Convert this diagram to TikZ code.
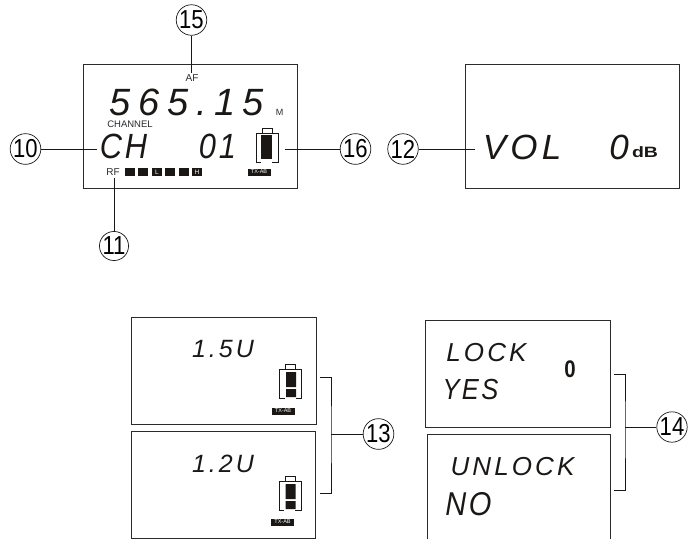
\documentclass[tikz,border=0pt]{standalone}
\usepackage{fontspec}
\setmainfont{Liberation Sans}
\newfontfamily\lcdfont[LetterSpace=20]{Liberation Sans}
\newfontfamily\lcdfontTight[LetterSpace=12]{Liberation Sans}
\newfontfamily\lcdfontNarrow[LetterSpace=8,FakeStretch=0.88]{Liberation Sans}
\newfontfamily\callfont[FakeStretch=0.85]{Liberation Sans}
\newfontfamily\widefont[FakeStretch=1.3]{Liberation Sans}
\usetikzlibrary{positioning}
\definecolor{lcdLine}{HTML}{2B2B2B}
\definecolor{lcdDark}{HTML}{1A1715}
\tikzset{
  lcdBox/.style={draw=lcdLine,line width=0.9pt,inner sep=0pt},
  callNum/.style={draw=lcdDark,circle,line width=0.7pt,inner sep=0pt,minimum size=29pt,
    font=\fontsize{26}{26}\callfont},
  leadLine/.style={draw=lcdDark,line width=0.8pt},
  lcdText/.style={inner sep=0pt,text=lcdDark,font=\fontsize{#1}{#1}\lcdfont\itshape},
  lcdTight/.style={inner sep=0pt,text=lcdDark,font=\fontsize{#1}{#1}\lcdfontTight\itshape},
  lcdNarrow/.style={inner sep=0pt,text=lcdDark,font=\fontsize{#1}{#1}\lcdfontNarrow\itshape},
  smallText/.style={inner sep=0pt,text=lcdLine,font=\fontsize{10}{10}\selectfont},
  levelBar/.style={fill=lcdDark,inner sep=0pt,minimum width=10pt,minimum height=8pt,text=white,
    font=\fontsize{6.5}{6.5}\selectfont},
  txTag/.style={fill=lcdDark,inner sep=0pt,minimum width=23pt,minimum height=7pt,text=white,
    font=\fontsize{5.5}{5.5}\selectfont},
  batteryShell/.pic={
    \draw[lcdDark,line width=0.7pt] (6,0) |- (16,-5) -- (16,0);
    \draw[lcdDark,line width=0.9pt] (5,29) -- (0,29) -- (0,0) -- (22,0) -- (22,29) -- (16,29);
  },
}
\begin{document}
\begin{tikzpicture}[x=1pt,y=-1pt]
  \useasboundingbox (0,0) rectangle (689,539);

  % main display
  \node[lcdBox,minimum width=214pt,minimum height=124pt] (lcdMain) at (190,126) {};
  \node[lcdText=38] (freqText) at (187,102.5) {565.15};
  \node[smallText,font=\fontsize{9}{9}\selectfont] (freqUnit) at (279.5,112) {M};
  \node[smallText] (afLabel) at (192,78) {AF};
  \node[smallText,font=\fontsize{9.5}{9.5}\selectfont] (channelLabel) at (130,124.5) {CHANNEL};
  \node[lcdNarrow=35] (chText) at (123.5,146) {CH};
  \node[lcdNarrow=35] (chValue) at (217.5,146) {01};
  \node[smallText] (rfLabel) at (113,172) {RF};
  \node[levelBar] (barOne) at (130,172) {};
  \node[levelBar] (barTwo) at (143,172) {};
  \node[levelBar] (barLow) at (157,172) {L};
  \node[levelBar] (barThree) at (170,172) {};
  \node[levelBar] (barFour) at (184,172) {};
  \node[levelBar] (barHigh) at (197,172) {H};
  \pic at (256,133) {batteryShell};
  \fill[lcdDark] (261,135) rectangle (272,159);
  \node[txTag] (mainTag) at (259,172) {TX-AB};

  % volume display
  \node[lcdBox,minimum width=214pt,minimum height=124pt] (lcdVol) at (572,126) {};
  \node[lcdTight=35] (volText) at (522,147) {VOL};
  \node[lcdTight=35] (volValue) at (619,147) {0};
  \node[inner sep=0pt,text=lcdDark,font=\fontsize{15}{15}\widefont\bfseries] (volUnit) at (645,152) {dB};

  % battery displays
  \node[lcdBox,minimum width=185pt,minimum height=107pt] (lcdHigh) at (223.5,370.5) {};
  \node[lcdTight=25] (highText) at (223,349) {1.5U};
  \pic at (279.5,369) {batteryShell};
  \fill[lcdDark] (286,372) rectangle (296,387) (286,389) rectangle (296,397);
  \node[txTag] (highTag) at (283,411) {TX-AB};

  \node[lcdBox,minimum width=184pt,minimum height=107pt] (lcdLow) at (223,484.5) {};
  \node[lcdTight=25] (lowText) at (223,464) {1.2U};
  \pic at (279,481.5) {batteryShell};
  \fill[lcdDark] (285.5,484) rectangle (295.5,499) (285.5,501) rectangle (295.5,509);
  \node[txTag] (lowTag) at (282.5,522) {TX-AB};

  % lock displays
  \node[lcdBox,minimum width=185pt,minimum height=107pt] (lcdLock) at (518,373.5) {};
  \node[lcdTight=26] (lockText) at (486.5,352.5) {LOCK};
  \node[inner sep=0pt,text=lcdDark,font=\fontsize{24}{24}\callfont\bfseries] (lockIcon) at (570,369) {0};
  \node[lcdNarrow=29] (yesText) at (470.5,390) {YES};
  \draw[lcdBox] (427,539) |- (610,434) -- (610,539);
  \node[lcdTight=26] (unlockText) at (512.5,467) {UNLOCK};
  \node[lcdNarrow=33] (noText) at (468.5,504.5) {NO};

  % callouts
  \node[callNum] (numTen) at (25.5,149) {10};
  \node[callNum] (numEleven) at (114,246) {11};
  \node[callNum] (numTwelve) at (403,149) {12};
  \node[callNum] (numThirteen) at (378.5,434) {13};
  \node[callNum] (numFourteen) at (672,427) {14};
  \node[callNum] (numFifteen) at (191.5,20) {15};
  \node[callNum] (numSixteen) at (355.5,149) {16};

  \coordinate (tipTen) at (97,149);
  \coordinate (tipEleven) at (114,178);
  \coordinate (tipTwelve) at (475,149);
  \coordinate (tipFifteen) at (191.5,73);
  \coordinate (tipSixteen) at (285,149);
  \draw[leadLine] (numTen) -- (tipTen);
  \draw[leadLine] (numEleven) -- (tipEleven);
  \draw[leadLine] (numTwelve) -- (tipTwelve);
  \draw[leadLine] (numFifteen) -- (tipFifteen);
  \draw[leadLine] (numSixteen) -- (tipSixteen);

  % brackets
  \coordinate (midThirteen) at (331,434);
  \coordinate (midFourteen) at (625,427);
  \draw[leadLine] (320,377) -| (midThirteen) |- (320,493);
  \draw[leadLine] (numThirteen) -- (midThirteen);
  \draw[leadLine] (614,374) -| (midFourteen) |- (614,490);
  \draw[leadLine] (numFourteen) -- (midFourteen);
\end{tikzpicture}
\end{document}
